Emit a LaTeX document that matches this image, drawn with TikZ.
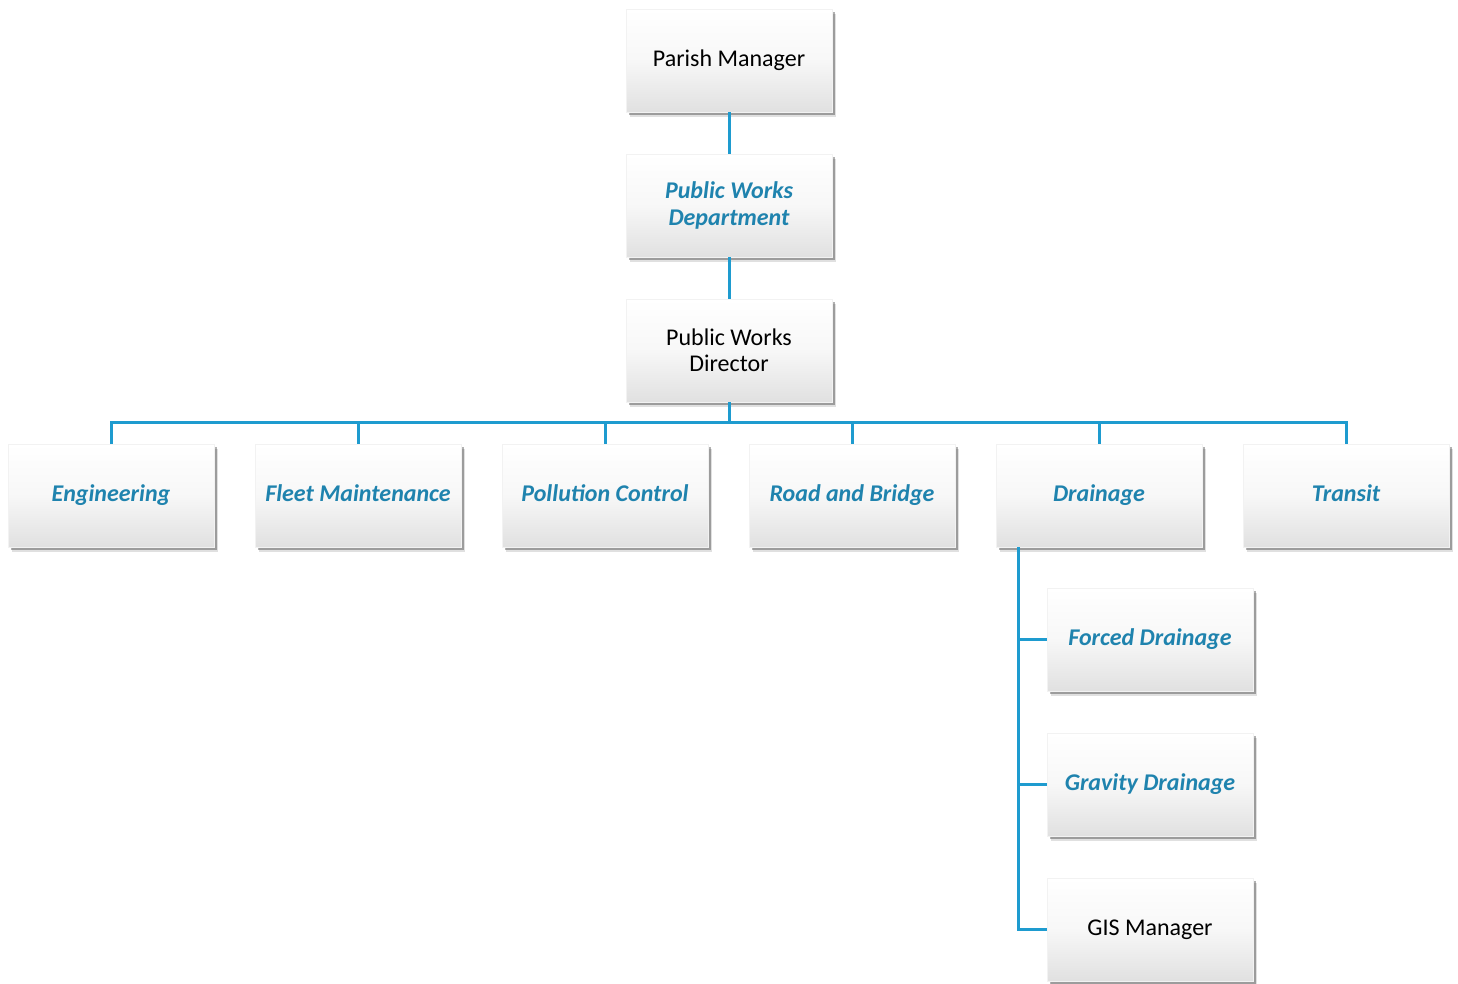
\documentclass[tikz,border=0pt]{standalone}
\usepackage{fontspec}
\setmainfont{Carlito}
\usetikzlibrary{shadows}
\definecolor{linkblue}{HTML}{1E9BCF}
\definecolor{titleblue}{HTML}{1F83AE}
\begin{document}
\begin{tikzpicture}[x=1pt,y=-1pt,
  orgbox/.style={minimum width=206pt,minimum height=103pt,inner sep=2pt,
    align=center,font=\fontsize{24}{26.5}\selectfont,
    top color=white,bottom color=black!12,middle color=white!97!black,
    draw=black!5,line width=0.4pt,
    drop shadow={shadow xshift=4pt,shadow yshift=-5pt,opacity=0.12,fill=black},
    drop shadow={shadow xshift=2.5pt,shadow yshift=-3pt,opacity=0.3,fill=black}},
  unitbox/.style={orgbox,text=titleblue,font=\fontsize{24}{26.5}\selectfont\bfseries\itshape},
  oneline/.style={text height=17pt,text depth=5pt},
  link/.style={draw=linkblue,line width=3pt}]
\useasboundingbox (0,0) rectangle (1458,984);

% top of the hierarchy
\node[orgbox,oneline]  (pm)  at (729,60.5)  {Parish Manager};
\node[unitbox] (pwd) at (729,205.5) {Public Works\\Department};
\node[orgbox]  (dir) at (729,350.5) {Public Works\\Director};

% divisions
\node[unitbox,oneline] (eng)   at (111,495.5)  {Engineering};
\node[unitbox,oneline] (fleet) at (358,495.5)  {Fleet Maintenance};
\node[unitbox,oneline] (poll)  at (605,495.5)  {Pollution Control};
\node[unitbox,oneline] (road)  at (852,495.5)  {Road and Bridge};
\node[unitbox,oneline] (drain) at (1099,495.5) {Drainage};
\node[unitbox,oneline] (trans) at (1346,495.5) {Transit};

% drainage sections
\node[unitbox,oneline] (forced)  at (1150,639.5) {Forced Drainage};
\node[unitbox,oneline] (gravity) at (1150,784.5) {Gravity Drainage};
\node[orgbox,oneline]  (gis)     at (1150,929.5) {GIS Manager};

% connectors
\coordinate (bus) at (729,422);
\draw[link] (pm.south) -- (pwd.north);
\draw[link] (pwd.south) -- (dir.north);
\draw[link] (dir.south) -- (bus);
\foreach \n in {eng,fleet,poll,road,drain,trans}
  \draw[link] (\n.north) -- (\n.north |- bus) -- (bus);
\coordinate (trunk) at (1018,547);
\draw[link] (trunk) |- (forced.west);
\draw[link] (trunk) |- (gravity.west);
\draw[link] (trunk) |- (gis.west);
\end{tikzpicture}
\end{document}
